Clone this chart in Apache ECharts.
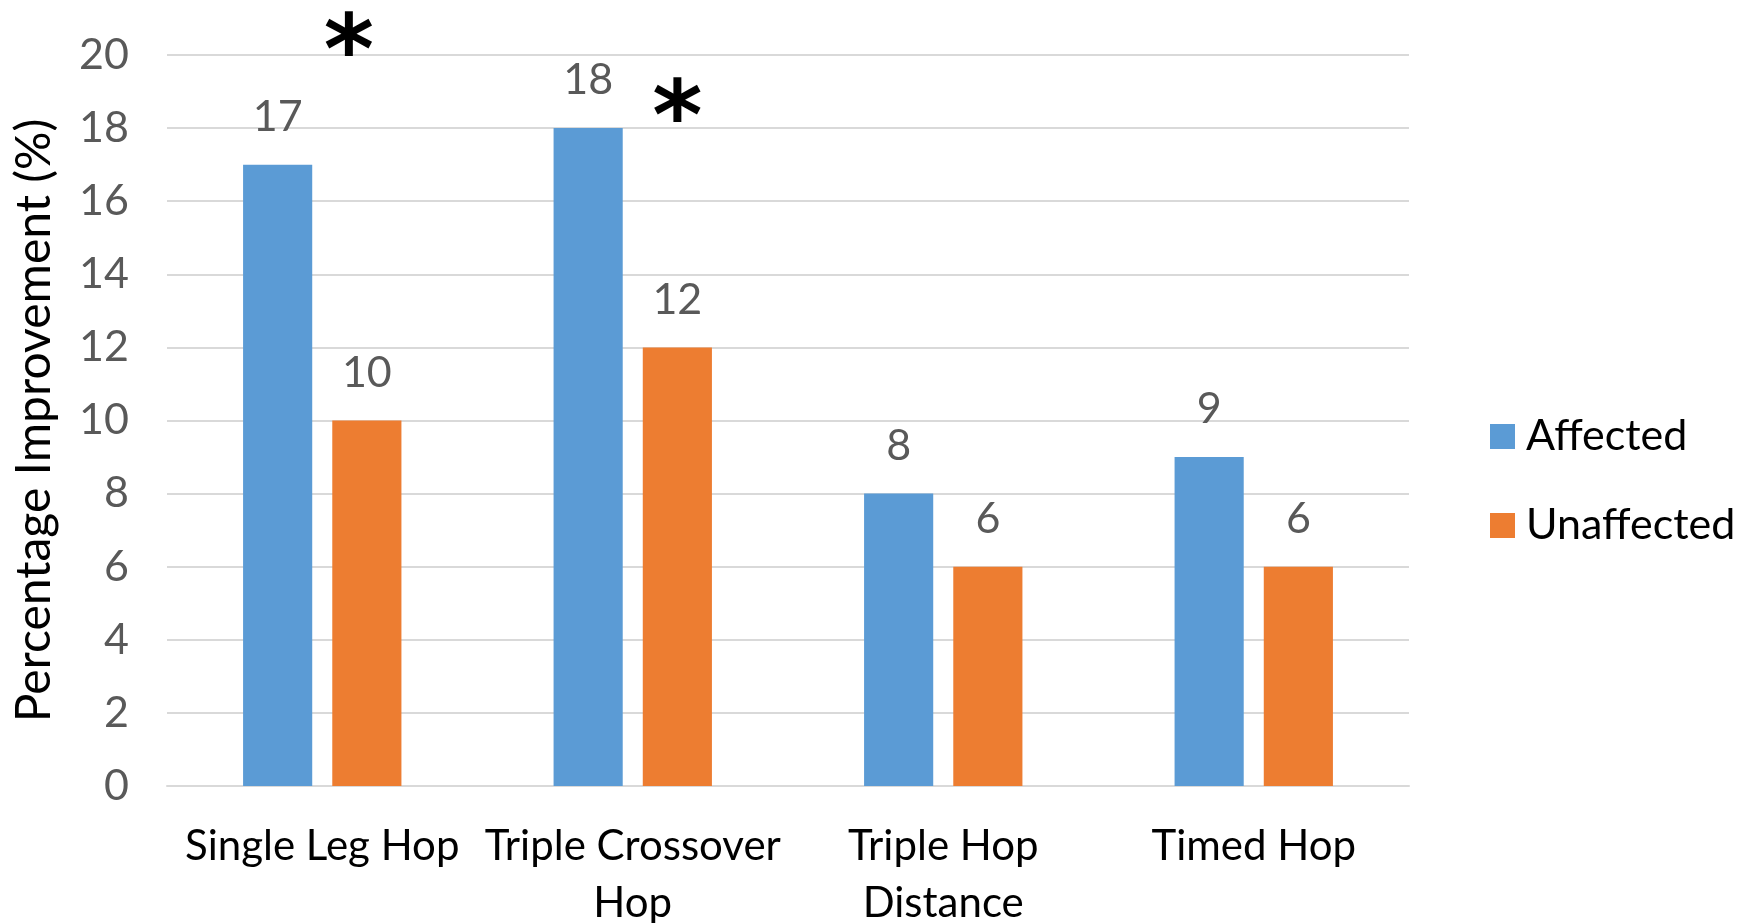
<!DOCTYPE html>
<html>
<head>
<meta charset="utf-8">
<title>Hop test improvement</title>
<script src="https://cdn.jsdelivr.net/npm/echarts@6/dist/echarts.min.js"></script>
<style>
  html, body { margin: 0; padding: 0; background: #ffffff; }
  #chart { width: 1740px; height: 923px; }
</style>
</head>
<body>
<div id="chart"></div>
<script>
// Hop tests and mean percentage improvement per limb
const categories = ['Single Leg Hop', 'Triple Crossover\nHop', 'Triple Hop\nDistance', 'Timed Hop'];
const affected = [17, 18, 8, 9];
const unaffected = [10, 12, 6, 6];
const yTicks = { min: 0, max: 20, interval: 2 };
// Significance markers: [category index, value height, x shift px, y shift px]
const significance = [[0, 20, -18, 3], [1, 18.7, 0, 22]];

const FONT = 'Lato, "Liberation Sans", sans-serif';
const chart = echarts.init(document.getElementById('chart'), null, { renderer: 'canvas' });

chart.setOption({
  animation: false,
  backgroundColor: '#ffffff',
  textStyle: { fontFamily: FONT },
  grid: { left: 167, right: 331, top: 55, bottom: 137, outerBoundsMode: 'none', containLabel: false },
  legend: {
    orient: 'vertical',
    left: 1485,
    top: 410,
    itemWidth: 25,
    itemHeight: 25,
    itemGap: 46,
    icon: 'rect',
    textStyle: { fontSize: 43, color: '#000000', fontFamily: FONT, padding: [0, 0, 0, 6] },
    data: ['Affected', 'Unaffected']
  },
  xAxis: {
    type: 'category',
    data: categories,
    axisLine: { show: true, lineStyle: { color: '#d9d9d9', width: 2 } },
    axisTick: { show: false },
    axisLabel: {
      fontSize: 42, color: '#000000', fontFamily: FONT, margin: 32,
      lineHeight: 57, interval: 0
    }
  },
  yAxis: {
    type: 'value',
    min: yTicks.min,
    max: yTicks.max,
    interval: yTicks.interval,
    name: 'Percentage Improvement (%)',
    nameLocation: 'middle',
    nameGap: 108,
    nameTextStyle: { fontSize: 48, color: '#000000', fontFamily: FONT },
    axisLine: { show: false },
    axisTick: { show: false },
    splitLine: { lineStyle: { color: '#d9d9d9', width: 2 } },
    axisLabel: { fontSize: 43, color: '#595959', fontFamily: FONT, margin: 38 }
  },
  series: [
    {
      name: 'Affected',
      type: 'bar',
      data: affected,
      barGap: '29%',
      barCategoryGap: '49%',
      itemStyle: { color: '#5B9BD5' },
      label: { show: true, position: 'top', distance: 26, fontSize: 43, color: '#595959', fontFamily: FONT }
    },
    {
      name: 'Unaffected',
      type: 'bar',
      data: unaffected,
      itemStyle: { color: '#ED7D31' },
      label: { show: true, position: 'top', distance: 26, fontSize: 43, color: '#595959', fontFamily: FONT },
      markPoint: {
        symbol: 'circle',
        symbolSize: 0,
        silent: true,
        label: {
          show: true,
          formatter: '*',
          fontSize: 96,
          fontWeight: 'bold',
          color: '#000000',
          fontFamily: '"DejaVu Sans", sans-serif',
          position: 'inside'
        },
        data: significance.map(([i, v, dx, dy]) => ({
          coord: [i, v],
          label: { offset: [dx, dy] }
        }))
      }
    }
  ]
});
</script>
</body>
</html>
